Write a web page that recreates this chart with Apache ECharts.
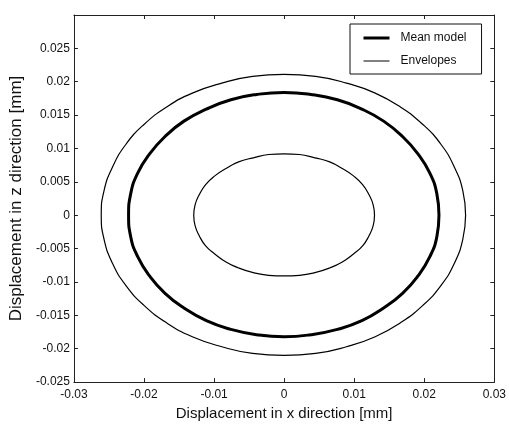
<!DOCTYPE html>
<html>
<head>
<meta charset="utf-8">
<script src="https://cdn.jsdelivr.net/npm/echarts@6/dist/echarts.min.js"></script>
<style>
  html, body { margin: 0; padding: 0; background: #fff; }
  #chart { width: 509px; height: 426px; }
</style>
</head>
<body>
<div id="chart"></div>
<script>
// Orbit traces: [x displacement, z displacement] in mm
const meanModel = [
  [0.0221, 0], [0.0218, 0.0032], [0.0208, 0.0063], [0.0191, 0.0092], [0.0169, 0.0118], [0.0142, 0.0141],
  [0.0111, 0.0159], [0.0076, 0.0173], [0.0038, 0.0181], [0, 0.0184],
  [-0.0039, 0.0181], [-0.0076, 0.0173], [-0.0111, 0.0159], [-0.0143, 0.0141], [-0.017, 0.0118],
  [-0.0192, 0.0092], [-0.0209, 0.0063], [-0.0219, 0.0032], [-0.0222, 0],
  [-0.0219, -0.0032], [-0.0209, -0.0062], [-0.0192, -0.0091], [-0.017, -0.0117], [-0.0143, -0.0139],
  [-0.0111, -0.0158], [-0.0076, -0.0171], [-0.0039, -0.0179], [0, -0.0182],
  [0.0038, -0.0179], [0.0076, -0.0171], [0.0111, -0.0158], [0.0142, -0.0139], [0.0169, -0.0117],
  [0.0191, -0.0091], [0.0208, -0.0062], [0.0218, -0.0032], [0.0221, 0]
];
const outerEnvelope = [
  [0.0259, 0], [0.0255, 0.0037], [0.0243, 0.0072], [0.0224, 0.0106], [0.0198, 0.0136], [0.0166, 0.0162],
  [0.013, 0.0183], [0.0089, 0.0198], [0.0045, 0.0208], [0, 0.0211],
  [-0.0045, 0.0208], [-0.0089, 0.0198], [-0.0131, 0.0183], [-0.0168, 0.0162], [-0.02, 0.0136],
  [-0.0226, 0.0106], [-0.0245, 0.0072], [-0.0257, 0.0037], [-0.0261, 0],
  [-0.0257, -0.0036], [-0.0245, -0.0072], [-0.0226, -0.0105], [-0.02, -0.0135], [-0.0168, -0.0161],
  [-0.0131, -0.0182], [-0.0089, -0.0197], [-0.0045, -0.0207], [0, -0.021],
  [0.0045, -0.0207], [0.0089, -0.0197], [0.013, -0.0182], [0.0166, -0.0161], [0.0198, -0.0135],
  [0.0224, -0.0105], [0.0243, -0.0072], [0.0255, -0.0036], [0.0259, 0]
];
const innerEnvelope = [
  [0.0129, 0], [0.0127, 0.0016], [0.0121, 0.0031], [0.0112, 0.0046], [0.0099, 0.0059], [0.0083, 0.007],
  [0.0065, 0.008], [0.0044, 0.0086], [0.0022, 0.0091], [0, 0.0092],
  [-0.0022, 0.0091], [-0.0044, 0.0086], [-0.0065, 0.008], [-0.0083, 0.007], [-0.0099, 0.0059],
  [-0.0112, 0.0046], [-0.0121, 0.0031], [-0.0127, 0.0016], [-0.0129, 0],
  [-0.0127, -0.0016], [-0.0121, -0.0031], [-0.0112, -0.0046], [-0.0099, -0.0058], [-0.0083, -0.007],
  [-0.0065, -0.0079], [-0.0044, -0.0086], [-0.0022, -0.009], [0, -0.0091],
  [0.0022, -0.009], [0.0044, -0.0086], [0.0065, -0.0079], [0.0083, -0.007], [0.0099, -0.0058],
  [0.0112, -0.0046], [0.0121, -0.0031], [0.0127, -0.0016], [0.0129, 0]
];
const xTicks = { min: -0.03, max: 0.03, step: 0.01 };
const zTicks = { min: -0.025, max: 0.03, step: 0.005, hidden: [0.03] };
const xName = 'Displacement in x direction [mm]';
const zName = 'Displacement in z direction [mm]';

const fontFamily = 'Liberation Sans, Arial, sans-serif';
const fmt = v => String(parseFloat(v.toFixed(4)));
const axisLine = { show: true, onZero: false, lineStyle: { color: '#222', width: 1 } };
const tick = { show: true, inside: true, length: 4, lineStyle: { color: '#222' } };
const clear = 'rgba(0,0,0,0)';
const meanWidth = 3;
const envelopeWidth = 1.2;

const chart = echarts.init(document.getElementById('chart'), null, { renderer: 'canvas' });
chart.setOption({
  animation: false,
  backgroundColor: '#fff',
  grid: { left: 73, right: 14, top: 15, bottom: 42, show: false },
  legend: {
    left: 350, top: 24, orient: 'vertical',
    padding: [8, 15, 7, 12],
    itemGap: 11,
    itemWidth: 26, itemHeight: 13,
    borderColor: '#111', borderWidth: 1,
    backgroundColor: '#fff',
    itemStyle: { color: clear, borderColor: clear, borderWidth: 0, opacity: 0 },
    textStyle: { fontFamily, fontSize: 12, color: '#111', padding: [0, 0, 0, 6] },
    data: [
      { name: 'Mean model', lineStyle: { width: meanWidth, color: '#000' } },
      { name: 'Envelopes', lineStyle: { width: 1, color: '#000' } }
    ]
  },
  xAxis: [
    {
      type: 'value', min: xTicks.min, max: xTicks.max, interval: xTicks.step,
      axisLine, axisTick: tick, splitLine: { show: false },
      axisLabel: { fontFamily, fontSize: 12, color: '#111', margin: 7, formatter: fmt },
      name: xName, nameLocation: 'middle', nameGap: 20,
      nameTextStyle: { fontFamily, fontSize: 15, color: '#111' }
    },
    {
      type: 'value', position: 'top', min: xTicks.min, max: xTicks.max, interval: xTicks.step,
      axisLine, axisTick: tick, axisLabel: { show: false }, splitLine: { show: false }
    }
  ],
  yAxis: [
    {
      type: 'value', min: zTicks.min, max: zTicks.max, interval: zTicks.step,
      axisLine, axisTick: tick, splitLine: { show: false },
      axisLabel: {
        fontFamily, fontSize: 12, color: '#111', margin: 4,
        formatter: v => zTicks.hidden.some(h => Math.abs(h - v) < 1e-9) ? '' : fmt(v)
      },
      name: zName, nameLocation: 'middle', nameGap: 45,
      nameTextStyle: { fontFamily, fontSize: 17, color: '#111' }
    },
    {
      type: 'value', position: 'right', min: zTicks.min, max: zTicks.max, interval: zTicks.step,
      axisLine, axisTick: tick, axisLabel: { show: false }, splitLine: { show: false }
    }
  ],
  series: [
    {
      name: 'Envelopes', type: 'line', data: outerEnvelope, smooth: 0.5, symbol: 'none',
      lineStyle: { color: '#000', width: envelopeWidth }, itemStyle: { color: '#000' }
    },
    {
      name: 'Envelopes', type: 'line', data: innerEnvelope, smooth: 0.5, symbol: 'none',
      lineStyle: { color: '#000', width: envelopeWidth }, itemStyle: { color: '#000' }
    },
    {
      name: 'Mean model', type: 'line', data: meanModel, smooth: 0.5, symbol: 'none',
      lineStyle: { color: '#000', width: meanWidth }, itemStyle: { color: '#000' }
    }
  ]
});
</script>
</body>
</html>
